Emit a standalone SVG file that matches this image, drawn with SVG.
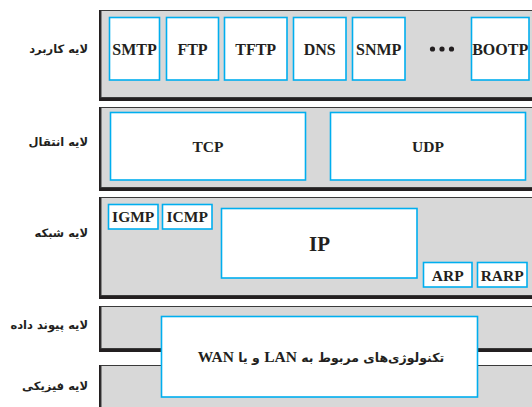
<svg xmlns="http://www.w3.org/2000/svg" width="532" height="407" viewBox="0 0 532 407">
  <style>
    .shadow { fill: #231f20; }
    .layer { fill: #d8d8d8; stroke: #3a3a3a; stroke-width: 1; }
    .proto { fill: #ffffff; stroke: #00aeef; stroke-width: 1.6; }
    .lbl { font-family: "Liberation Serif", "Times New Roman", serif; font-weight: bold; font-size: 16px; fill: #231f20; text-anchor: middle; }
    .sm { font-size: 15.5px; }
    .fa { font-family: "DejaVu Sans", "Noto Sans", sans-serif; font-weight: bold; font-size: 11.5px; fill: #231f20; text-anchor: start; direction: rtl; }
    .dot { fill: #231f20; }
  </style>

  <rect width="532" height="407" fill="#ffffff"/>

  <!-- layer bands: dark shadow behind, grey panel on top -->
  <g id="layers">
    <rect class="shadow" x="99" y="10" width="440" height="91"/>
    <rect class="layer" x="101" y="10.5" width="440" height="87"/>

    <rect class="shadow" x="99" y="107" width="440" height="84"/>
    <rect class="layer" x="101" y="107.5" width="440" height="80"/>

    <rect class="shadow" x="99" y="197" width="440" height="102"/>
    <rect class="layer" x="101" y="197.5" width="440" height="98"/>

    <rect class="shadow" x="99" y="306" width="440" height="46"/>
    <rect class="layer" x="101" y="306.5" width="440" height="42"/>

    <rect class="shadow" x="99" y="365" width="440" height="50"/>
    <rect class="layer" x="101" y="365.5" width="440" height="50"/>
  </g>

  <!-- layer names (right-aligned at x=88) -->
  <g id="layer-names">
    <text class="fa" x="88" y="53">لایه کاربرد</text>
    <text class="fa" x="88" y="146">لایه انتقال</text>
    <text class="fa" x="88" y="237">لایه شبکه</text>
    <text class="fa" x="88" y="329">لایه پیوند داده</text>
    <text class="fa" x="88" y="390">لایه فیزیکی</text>
  </g>

  <!-- application layer -->
  <g id="smtp"><rect class="proto" x="109.5" y="17.5" width="50" height="62.5"/><text class="lbl" x="134.5" y="54.5">SMTP</text></g>
  <g id="ftp"><rect class="proto" x="166.5" y="17.5" width="52" height="62.5"/><text class="lbl" x="192.5" y="54.5">FTP</text></g>
  <g id="tftp"><rect class="proto" x="224.5" y="17.5" width="62.5" height="62.5"/><text class="lbl" x="255.7" y="54.5">TFTP</text></g>
  <g id="dns"><rect class="proto" x="293.5" y="17.5" width="52.5" height="62.5"/><text class="lbl" x="319.7" y="54.5">DNS</text></g>
  <g id="snmp"><rect class="proto" x="352.5" y="17.5" width="52.5" height="62.5"/><text class="lbl" x="378.7" y="54.5">SNMP</text></g>
  <g id="more">
    <circle class="dot" cx="432.5" cy="49" r="2.6"/>
    <circle class="dot" cx="442" cy="49" r="2.6"/>
    <circle class="dot" cx="451.5" cy="49" r="2.6"/>
  </g>
  <g id="bootp"><rect class="proto" x="471.5" y="17.5" width="57.5" height="62.5"/><text class="lbl" x="500.2" y="54.5">BOOTP</text></g>

  <!-- transport layer -->
  <g id="tcp"><rect class="proto" x="110.5" y="112.5" width="195" height="67.5"/><text class="lbl sm" x="208" y="152">TCP</text></g>
  <g id="udp"><rect class="proto" x="330.5" y="112.5" width="195" height="67.5"/><text class="lbl sm" x="428" y="152">UDP</text></g>

  <!-- network layer -->
  <g id="igmp"><rect class="proto" x="108.5" y="204.5" width="49.5" height="24.5"/><text class="lbl sm" x="133.2" y="222.3">IGMP</text></g>
  <g id="icmp"><rect class="proto" x="162.5" y="204.5" width="49.5" height="24.5"/><text class="lbl sm" x="187.2" y="222.3">ICMP</text></g>
  <g id="ip"><rect class="proto" x="221.5" y="208.5" width="195.5" height="69.5"/><text class="lbl" x="319.5" y="250.5" style="font-size:21px">IP</text></g>
  <g id="arp"><rect class="proto" x="423.5" y="262.5" width="48.5" height="24.5"/><text class="lbl sm" x="447.7" y="280.5">ARP</text></g>
  <g id="rarp"><rect class="proto" x="477.5" y="262.5" width="49.5" height="24.5"/><text class="lbl sm" x="502.2" y="280.5">RARP</text></g>

  <!-- data link + physical -->
  <g id="lan-wan">
    <rect class="proto" x="161.5" y="316.5" width="316" height="80.5"/>
    <text x="321" y="362" direction="rtl" text-anchor="middle" font-family="'Liberation Serif', 'DejaVu Sans', serif" font-weight="bold" font-size="15.5" fill="#231f20"><tspan font-family="'DejaVu Sans', sans-serif" font-size="12.5">تکنولوژی‌های مربوط به </tspan>LAN<tspan font-family="'DejaVu Sans', sans-serif" font-size="12.5">  و یا </tspan>WAN</text>
  </g>

  <g id="connectors"/>
</svg>
